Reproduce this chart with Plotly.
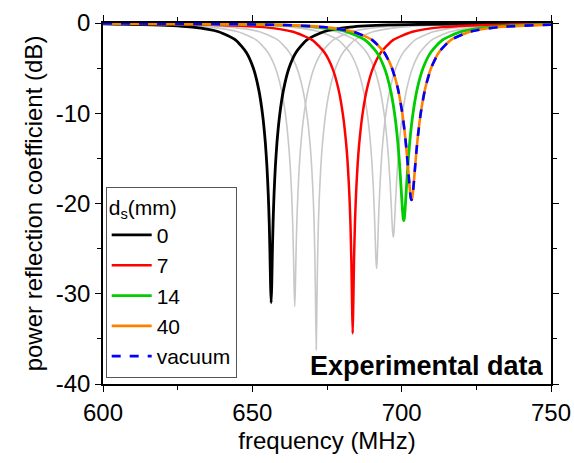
import plotly.graph_objects as go

# ---------------- data ----------------
black_freq = [600.0, 616.70, 629.90, 638.70, 644.42, 647.94, 650.32, 652.16, 653.48, 654.36, 654.89, 655.33, 655.64, 655.90, 656.12,
              656.30, 656.48, 656.70, 656.96, 657.27, 657.71, 658.24, 659.12, 660.44, 662.28, 664.66, 668.18, 673.90, 682.70, 695.90, 750.0]
black_db = [-0.105, -0.21, -0.457, -0.968, -1.898, -3.235, -4.99, -7.41, -10.29, -13.29, -15.90, -18.95, -21.95, -25.51, -29.23,
            -31.0, -29.23, -25.51, -21.95, -18.95, -15.90, -13.29, -10.29, -7.41, -4.99, -3.235, -1.898, -0.968, -0.457, -0.21, -0.038]

red_freq = [600.0, 638.6, 653.6, 663.6, 670.1, 674.1, 676.8, 678.9, 680.4, 681.4, 682.0, 682.5, 682.85, 683.15, 683.4,
            683.6, 683.8, 684.05, 684.35, 684.7, 685.2, 685.8, 686.8, 688.3, 690.4, 693.1, 697.1, 703.6, 713.6, 728.6, 750.0]
red_db = [-0.062, -0.211, -0.457, -0.969, -1.90, -3.24, -5.00, -7.42, -10.31, -13.32, -15.97, -19.10, -22.25, -26.23, -31.18,
          -34.4, -31.18, -26.23, -22.25, -19.10, -15.97, -13.32, -10.31, -7.42, -5.00, -3.24, -1.90, -0.969, -0.457, -0.211, -0.097]

green_freq = [600.0, 657.50, 671.90, 681.50, 687.74, 691.58, 694.17, 696.19, 697.63, 698.59, 699.16, 699.64, 699.98, 700.27, 700.51,
              700.70, 700.89, 701.13, 701.42, 701.76, 702.24, 702.81, 703.77, 705.21, 707.23, 709.82, 713.66, 719.90, 729.50, 743.90, 750.0]
green_db = [-0.039, -0.208, -0.4545, -0.962, -1.885, -3.21, -4.94, -7.30, -10.05, -12.81, -15.05, -17.37, -19.20, -20.72, -21.64,
            -21.9, -21.64, -20.72, -19.20, -17.37, -15.05, -12.81, -10.05, -7.30, -4.94, -3.21, -1.885, -0.962, -0.4545, -0.208, -0.162]

orange_freq = [600.0, 659.20, 673.90, 683.70, 690.07, 693.99, 696.64, 698.69, 700.16, 701.14, 701.73, 702.22, 702.57, 702.86, 703.10,
               703.30, 703.50, 703.74, 704.04, 704.38, 704.87, 705.46, 706.44, 707.91, 709.96, 712.61, 716.53, 722.90, 732.70, 747.40, 750.0]
orange_db = [-0.039, -0.207, -0.452, -0.957, -1.874, -3.19, -4.90, -7.21, -9.88, -12.47, -14.48, -16.42, -17.83, -18.87, -19.45,
             -19.6, -19.45, -18.87, -17.83, -16.42, -14.48, -12.47, -9.88, -7.21, -4.90, -3.19, -1.874, -0.957, -0.452, -0.207, -0.187]

vacuum_freq = [600.0, 659.20, 673.90, 683.70, 690.07, 693.99, 696.64, 698.69, 700.16, 701.14, 701.73, 702.22, 702.57, 702.86, 703.10,
               703.30, 703.50, 703.74, 704.04, 704.38, 704.87, 705.46, 706.44, 707.91, 709.96, 712.61, 716.53, 722.90, 732.70, 747.40, 750.0]
vacuum_db = [-0.039, -0.207, -0.452, -0.957, -1.874, -3.19, -4.90, -7.21, -9.88, -12.47, -14.48, -16.42, -17.83, -18.87, -19.45,
             -19.6, -19.45, -18.87, -17.83, -16.42, -14.48, -12.47, -9.88, -7.21, -4.90, -3.19, -1.874, -0.957, -0.452, -0.207, -0.187]

gray1_freq = [600.0, 621.45, 635.70, 645.20, 651.38, 655.18, 657.74, 659.74, 661.16, 662.11, 662.68, 663.16, 663.49, 663.77, 664.01,
              664.20, 664.39, 664.63, 664.91, 665.25, 665.72, 666.29, 667.24, 668.67, 670.66, 673.23, 677.03, 683.20, 692.70, 706.95, 750.0]
gray1_db = [-0.094, -0.21, -0.457, -0.968, -1.90, -3.24, -4.99, -7.41, -10.29, -13.29, -15.91, -18.97, -22.00, -25.62, -29.49,
            -31.4, -29.49, -25.62, -22.00, -18.97, -15.91, -13.29, -10.29, -7.41, -4.99, -3.24, -1.90, -0.968, -0.457, -0.21, -0.053]

gray2_freq = [600.0, 628.65, 642.90, 652.40, 658.58, 662.38, 664.94, 666.94, 668.36, 669.31, 669.88, 670.36, 670.69, 670.97, 671.21,
              671.40, 671.59, 671.83, 672.11, 672.45, 672.92, 673.49, 674.44, 675.87, 677.86, 680.43, 684.23, 690.40, 699.90, 714.15, 750.0]
gray2_db = [-0.076, -0.21, -0.457, -0.969, -1.90, -3.24, -5.00, -7.42, -10.31, -13.34, -15.99, -19.14, -22.34, -26.46, -31.94,
            -36.2, -31.94, -26.46, -22.34, -19.14, -15.99, -13.34, -10.31, -7.42, -5.00, -3.24, -1.90, -0.969, -0.457, -0.21, -0.063]

gray3_freq = [600.0, 648.85, 663.10, 672.60, 678.78, 682.58, 685.14, 687.14, 688.56, 689.51, 690.08, 690.56, 690.89, 691.17, 691.41,
              691.60, 691.79, 692.03, 692.31, 692.65, 693.12, 693.69, 694.64, 696.07, 698.06, 700.63, 704.43, 710.60, 720.10, 734.35, 750.0]
gray3_db = [-0.046, -0.21, -0.457, -0.967, -1.896, -3.23, -4.98, -7.39, -10.24, -13.19, -15.72, -18.59, -21.26, -24.07, -26.37,
            -27.2, -26.37, -24.07, -21.26, -18.59, -15.72, -13.19, -10.24, -7.39, -4.98, -3.23, -1.896, -0.967, -0.457, -0.21, -0.113]

gray4_freq = [600.0, 654.45, 668.70, 678.20, 684.38, 688.18, 690.74, 692.74, 694.16, 695.11, 695.68, 696.16, 696.49, 696.77, 697.01,
              697.20, 697.39, 697.63, 697.91, 698.25, 698.72, 699.29, 700.24, 701.67, 703.66, 706.23, 710.03, 716.20, 725.70, 739.95, 750.0]
gray4_db = [-0.041, -0.209, -0.456, -0.965, -1.89, -3.22, -4.96, -7.34, -10.14, -12.99, -15.36, -17.91, -20.07, -22.02, -23.31,
            -23.7, -23.31, -22.02, -20.07, -17.91, -15.36, -12.99, -10.14, -7.34, -4.96, -3.22, -1.89, -0.965, -0.456, -0.209, -0.138]

series_names = ["0", "7", "14", "40", "vacuum"]
x_ticks = [600, 650, 700, 750]
x_tick_labels = ["600", "650", "700", "750"]
y_ticks = [0, -10, -20, -30, -40]
y_tick_labels = ["0", "-10", "-20", "-30", "-40"]

# ---------------- figure ----------------
FONT = "Liberation Sans, Arial, sans-serif"
fig = go.Figure()

for fx, fy in [(gray1_freq, gray1_db), (gray2_freq, gray2_db), (gray3_freq, gray3_db), (gray4_freq, gray4_db)]:
    fig.add_trace(go.Scatter(x=fx, y=fy, mode="lines", showlegend=False, hoverinfo="skip",
                             line=dict(color="#c8c8c8", width=1.6, shape="spline", smoothing=0.6)))

main = [
    (black_freq, black_db, "black", "solid", 2.8),
    (red_freq, red_db, "#ff0000", "solid", 2.5),
    (green_freq, green_db, "#00cc00", "solid", 2.8),
    (orange_freq, orange_db, "#ff8000", "solid", 2.6),
    (vacuum_freq, vacuum_db, "#0000ff", "dash", 2.6),
]
for (fx, fy, col, dash, w), name in zip(main, series_names):
    fig.add_trace(go.Scatter(x=fx, y=fy, mode="lines", name=name,
                             line=dict(color=col, width=w, dash=dash, shape="spline", smoothing=0.6)))

axis_common = dict(showline=True, linecolor="black", linewidth=1.5, mirror="ticks",
                   ticks="outside", ticklen=6, tickwidth=1.2, tickcolor="black",
                   showgrid=False, zeroline=False, automargin=False,
                   tickfont=dict(family=FONT, size=24, color="black"))

fig.update_layout(
    width=574, height=463,
    margin=dict(l=103, r=23, t=23, b=79),
    paper_bgcolor="white", plot_bgcolor="white",
    font=dict(family=FONT, color="black"),
    xaxis=dict(range=[600, 750], tickvals=x_ticks, ticktext=x_tick_labels,
               minor=dict(dtick=25, tick0=600, ticks="outside", ticklen=4, tickcolor="black", showgrid=False),
               title=dict(text="frequency (MHz)", font=dict(family=FONT, size=24), standoff=8),
               **axis_common),
    yaxis=dict(range=[-40, 0], tickvals=y_ticks, ticktext=y_tick_labels,
               minor=dict(dtick=5, tick0=0, ticks="outside", ticklen=4, tickcolor="black", showgrid=False),
               title=dict(text="power reflection coefficient (dB)", font=dict(family=FONT, size=24), standoff=6),
               **axis_common),
    legend=dict(x=0.006, y=0.018, xanchor="left", yanchor="bottom",
                bgcolor="white", bordercolor="#555555", borderwidth=1,
                font=dict(family=FONT, size=21, color="black"),
                title=dict(text="d<sub>s</sub>(mm)", font=dict(family=FONT, size=21)),
                tracegroupgap=0, itemwidth=40),
    annotations=[dict(text="<b>Experimental data</b>", xref="paper", yref="paper",
                      x=0.988, y=0.05, xanchor="right", yanchor="middle", showarrow=False,
                      font=dict(family=FONT, size=27, color="black"))],
)

fig.write_html("out.html")
